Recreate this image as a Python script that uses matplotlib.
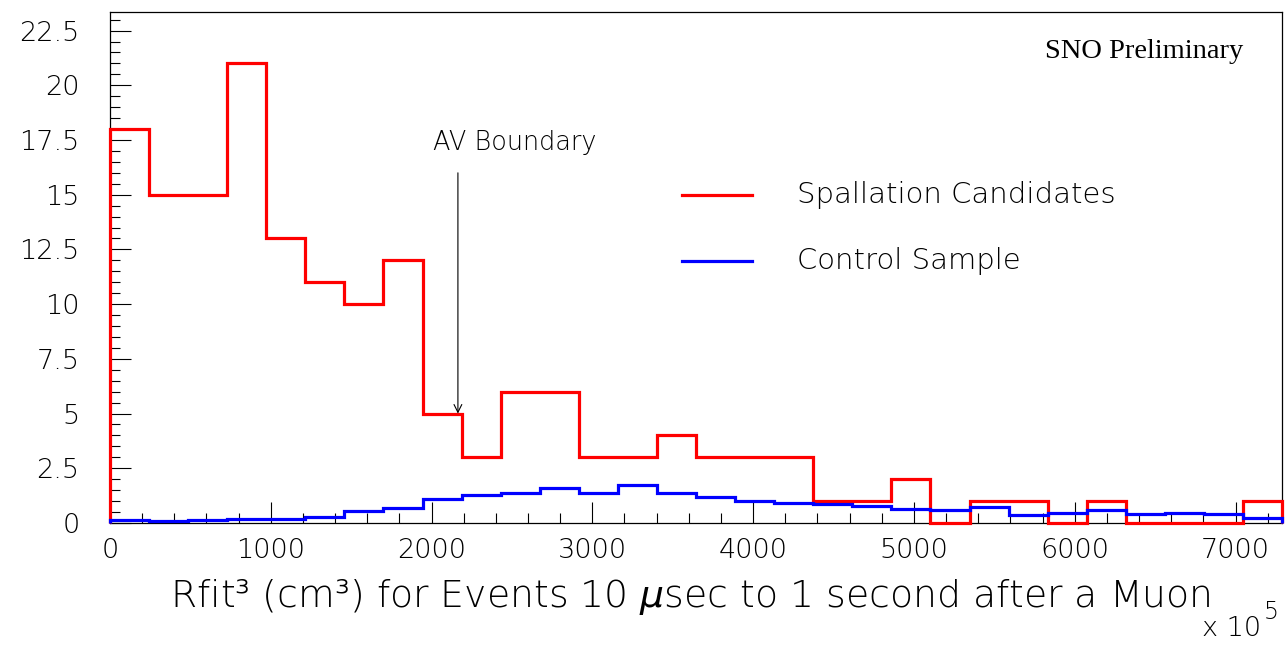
import numpy as np
import matplotlib
matplotlib.use("Agg")
import matplotlib.pyplot as plt
from matplotlib.ticker import MultipleLocator, FuncFormatter

# binning in units of 1e5 cm^3
n_bins = 30
x_max = 7290

spallation = [18, 15, 15, 21, 13, 11, 10, 12, 5, 3,
              6, 6, 3, 3, 4, 3, 3, 3, 1, 1,
              2, 0, 1, 1, 0, 1, 0, 0, 0, 1]
control = [0.12, 0.08, 0.15, 0.20, 0.20, 0.26, 0.55, 0.70, 1.10, 1.28,
           1.35, 1.58, 1.35, 1.72, 1.37, 1.19, 1.02, 0.92, 0.85, 0.79,
           0.64, 0.58, 0.73, 0.35, 0.46, 0.58, 0.43, 0.47, 0.43, 0.23]
av_boundary = 2164

plt.rcParams['font.family'] = ['DejaVu Sans']
plt.rcParams['font.weight'] = 'light'
plt.rcParams['mathtext.fontset'] = 'custom'
plt.rcParams['mathtext.rm'] = 'DejaVu Sans:light'
plt.rcParams['mathtext.it'] = 'DejaVu Sans:italic:light'

edges = np.linspace(0, x_max, n_bins + 1)

fig = plt.figure(figsize=(12.86, 6.47), dpi=100)
ax = fig.add_axes([0.0855, 0.1917, 0.9115, 0.7898])

ax.stairs(spallation, edges, color='#ff0000', lw=2.3, baseline=0, clip_on=False, zorder=3)
ax.stairs(control, edges, color='#0000ff', lw=2.3, baseline=0, clip_on=False, zorder=4)

ax.set_xlim(0, x_max)
ax.set_ylim(0, 23.35)

for s in ax.spines.values():
    s.set_linewidth(0.9)

ax.xaxis.set_major_locator(MultipleLocator(1000))
ax.xaxis.set_minor_locator(MultipleLocator(200))
ax.yaxis.set_major_locator(MultipleLocator(2.5))
ax.yaxis.set_minor_locator(MultipleLocator(0.5))
ax.yaxis.set_major_formatter(FuncFormatter(lambda v, p: '%g' % v))
ax.tick_params(which='both', direction='in', width=0.8, colors='black')
ax.tick_params(which='major', length=15)
ax.tick_params(which='minor', length=7.5)
ax.tick_params(axis='x', which='major', labelsize=19.5, pad=11)
ax.tick_params(axis='y', which='major', labelsize=19.5, pad=22)
ax.tick_params(top=False, right=False, which='both')

# AV boundary marker
ax.annotate('', xy=(av_boundary, 5.0), xytext=(av_boundary, 16.0),
            arrowprops=dict(arrowstyle='->', color='black', lw=0.8,
                            mutation_scale=14, shrinkA=0, shrinkB=0))
ax.text(2519, 17.4, 'AV Boundary', fontsize=18.4, ha='center', va='center')

# legend
ax.plot([0.488, 0.548], [0.642, 0.642], color='#ff0000', lw=2.3, transform=ax.transAxes)
ax.plot([0.488, 0.548], [0.513, 0.513], color='#0000ff', lw=2.3, transform=ax.transAxes)
ax.text(0.586, 0.642, 'Spallation Candidates', fontsize=21, va='center', transform=ax.transAxes)
ax.text(0.586, 0.513, 'Control Sample', fontsize=21, va='center', transform=ax.transAxes)

ax.text(0.9667, 0.9217, 'SNO Preliminary', fontsize=20.5, family='Liberation Serif',
        weight='normal', ha='right', va='center', transform=ax.transAxes)

# axis multiplier and title
fig.text(0.981, 0.017, 'x 10', fontsize=19.5, ha='right', va='baseline')
fig.text(0.983, 0.044, '5', fontsize=17, ha='left', va='baseline')
fig.text(0.537, 0.077, r'Rfit³ (cm³) for Events 10 $\mu$sec to 1 second after a Muon',
         fontsize=27.2, ha='center', va='center')

fig.savefig('out.png', dpi=100)
